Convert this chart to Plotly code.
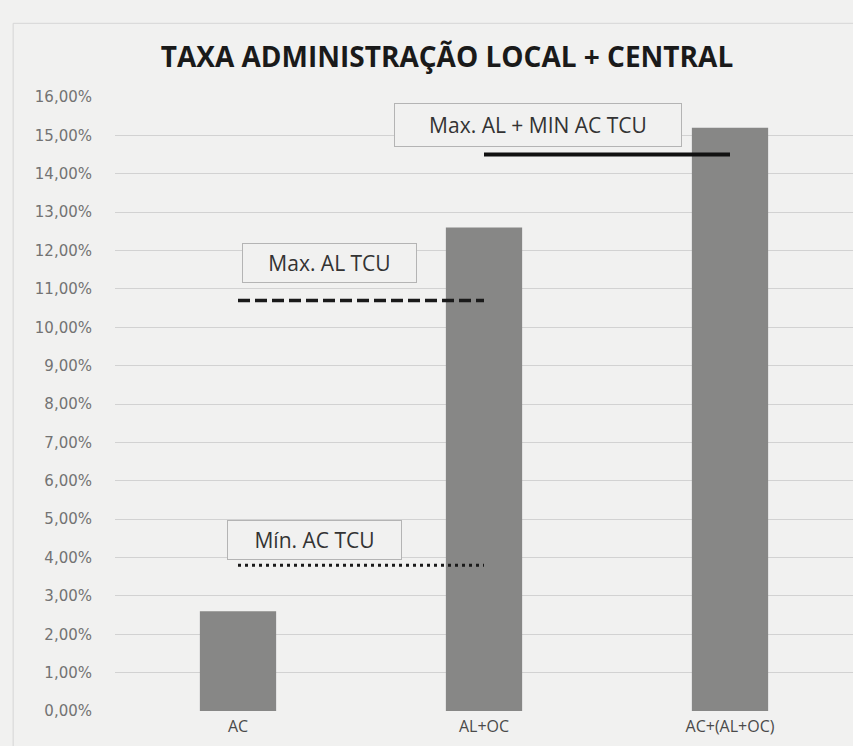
import plotly.graph_objects as go

categories = ["AC", "AL+OC", "AC+(AL+OC)"]
bar_values = [2.6, 12.6, 15.2]

max_al_x = ["AC", "AL+OC"]
max_al_y = [10.7, 10.7]
min_ac_x = ["AC", "AL+OC"]
min_ac_y = [3.8, 3.8]
sum_x = ["AL+OC", "AC+(AL+OC)"]
sum_y = [14.5, 14.5]

y_ticks = list(range(0, 17))
y_tick_labels = [f"{v},00%" for v in y_ticks]

bg = "#f1f1f0"
font_fam = "Open Sans, Calibri, sans-serif"

fig = go.Figure()
fig.add_trace(go.Bar(x=categories, y=bar_values, width=0.31,
                     marker=dict(color="#878786", line=dict(width=0)),
                     showlegend=False, hoverinfo="skip"))
fig.add_trace(go.Scatter(x=max_al_x, y=max_al_y, mode="lines",
                         line=dict(color="#1a1a1a", width=3.5, dash="12px,5px"),
                         showlegend=False))
fig.add_trace(go.Scatter(x=min_ac_x, y=min_ac_y, mode="lines",
                         line=dict(color="#1a1a1a", width=3, dash="3px,4px"),
                         showlegend=False))
fig.add_trace(go.Scatter(x=sum_x, y=sum_y, mode="lines",
                         line=dict(color="#111111", width=4),
                         showlegend=False))

box_font = dict(family=font_fam, size=21, color="#333333")
fig.add_annotation(x=0.37, y=11.67, xref="x", yref="y", text="Max. AL TCU",
                   showarrow=False, font=box_font, width=173, height=38,
                   bordercolor="#b4b4b4", borderwidth=1, borderpad=0, bgcolor=bg)
fig.add_annotation(x=0.31, y=4.45, xref="x", yref="y", text="Mín. AC TCU",
                   showarrow=False, font=box_font, width=173, height=38,
                   bordercolor="#b4b4b4", borderwidth=1, borderpad=0, bgcolor=bg)
fig.add_annotation(x=1.22, y=15.26, xref="x", yref="y", text="Max. AL + MIN AC TCU",
                   showarrow=False, font=box_font, width=286, height=42,
                   bordercolor="#b4b4b4", borderwidth=1, borderpad=0, bgcolor=bg)

fig.update_layout(
    width=853, height=746,
    margin=dict(l=115, r=0, t=97, b=35),
    paper_bgcolor=bg, plot_bgcolor=bg,
    title=dict(text="<b>TAXA ADMINISTRAÇÃO LOCAL + CENTRAL</b>",
               x=0.524, xanchor="center", y=0.9236, yanchor="middle",
               font=dict(family=font_fam, size=28, color="#1a1a1a")),
    xaxis=dict(type="category", range=[-0.5, 2.5], showgrid=False, showline=False,
               ticks="", tickfont=dict(family=font_fam, size=16, color="#4a4a4a"),
               ticklabelstandoff=4),
    yaxis=dict(range=[0, 16], tickvals=y_ticks, ticktext=y_tick_labels,
               showgrid=True, gridcolor="#d2d2d2", gridwidth=1, zeroline=False,
               showline=False, ticks="",
               tickfont=dict(family="DejaVu Sans, Verdana, sans-serif", size=15, color="#737373"),
               ticklabelstandoff=22),
    shapes=[
        dict(type="line", xref="paper", yref="paper", x0=-0.138, x1=1.0, y0=1.12, y1=1.12,
             line=dict(color="#d6d6d6", width=1)),
        dict(type="line", xref="paper", yref="paper", x0=-0.138, x1=-0.138, y0=-0.06, y1=1.12,
             line=dict(color="#d6d6d6", width=1)),
    ],
)

fig.write_html("out.html",
               config={"displayModeBar": False},
               post_script="document.body.style.margin='0';document.body.style.overflow='hidden';")
